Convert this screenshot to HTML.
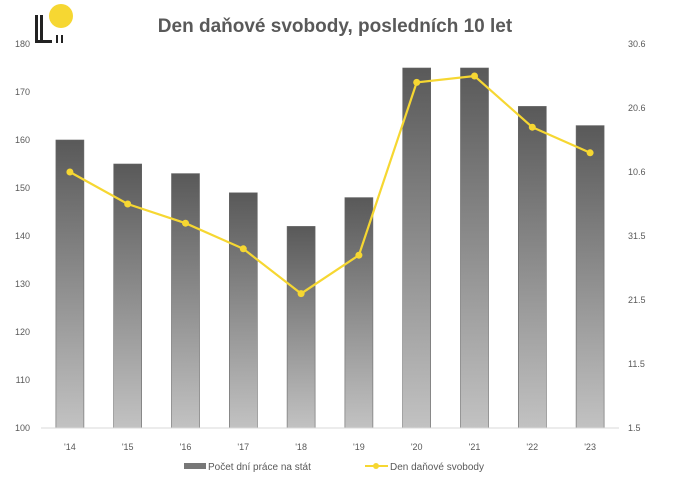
<!DOCTYPE html>
<html><head><meta charset="utf-8"><style>
body{margin:0;background:#fff;}
svg{display:block;font-family:"Liberation Sans",sans-serif;}
</style></head><body>
<svg id="c" width="685" height="492" viewBox="0 0 685 492">
<defs><linearGradient id="g" x1="0" y1="0" x2="0" y2="1"><stop offset="0" stop-color="#595959"/><stop offset="1" stop-color="#c2c2c2"/></linearGradient></defs>
<g>
<circle cx="61" cy="16" r="12" fill="#f6d732"/>
<rect x="35" y="15" width="3" height="28" fill="#222"/>
<rect x="40" y="15" width="3" height="28" fill="#222"/>
<rect x="35" y="40" width="17" height="3" fill="#222"/>
<rect x="56" y="35" width="2" height="8" fill="#222"/>
<rect x="61" y="35" width="2" height="8" fill="#222"/>
</g>
<text x="335" y="32" text-anchor="middle" font-size="19" font-weight="bold" fill="#595959">Den daňové svobody, posledních 10 let</text>
<g id="plot"></g>
<g>
<rect x="184" y="463" width="22" height="6" fill="#777"/>
<text x="208" y="470" font-size="10" fill="#595959">Počet dní práce na stát</text>
<line x1="365" y1="466" x2="388" y2="466" stroke="#f6d732" stroke-width="2"/>
<circle cx="376" cy="466" r="3" fill="#f6d732"/>
<text x="390" y="470" font-size="10" fill="#595959">Den daňové svobody</text>
</g>
</svg>
<script>
const categories=["'14","'15","'16","'17","'18","'19","'20","'21","'22","'23"];
const workDays=[160,155,153,149,142,148,175,175,167,163];
const freedomDay=[40,35,32,28,21,27,54,55,47,43]; // days after 1.5.
const leftTicks=[100,110,120,130,140,150,160,170,180];
const rightTicks=[0,10,20,30,40,50,60];
const rightTickLabels=["1.5","11.5","21.5","31.5","10.6","20.6","30.6"];
const NS="http://www.w3.org/2000/svg",p=document.getElementById('plot');
const X0=41,X1=619,Y0=428,Y1=44,bw=(X1-X0)/categories.length;
const xC=i=>X0+bw*(i+0.5);
const yL=v=>Y0-(v-100)/80*(Y0-Y1);
const yR=v=>Y0-v/60*(Y0-Y1);
function mk(t,a,txt){const e=document.createElementNS(NS,t);for(const k in a)e.setAttribute(k,a[k]);if(txt!=null)e.textContent=txt;p.appendChild(e);return e;}
leftTicks.forEach(v=>{const e=mk('text',{x:30,y:yL(v)+3,'text-anchor':'end','font-size':9,fill:'#595959'},v);

});
rightTicks.forEach((v,i)=>{const e=mk('text',{x:628,y:yR(v)+3,'font-size':9,fill:'#595959'},rightTickLabels[i]);

});
workDays.forEach((v,i)=>{const e=mk('rect',{x:xC(i)-14,y:yL(v),width:28,height:Y0-yL(v),fill:'url(#g)',stroke:'#666','stroke-width':0.6});


const t=mk('text',{x:xC(i),y:450,'text-anchor':'middle','font-size':9,fill:'#595959'},categories[i]);

});
const ax=mk('line',{x1:X0,y1:Y0,x2:X1,y2:Y0,stroke:'#d9d9d9'});


const ln=mk('polyline',{points:freedomDay.map((v,i)=>xC(i)+','+yR(v)).join(' '),fill:'none',stroke:'#f6d732','stroke-width':2.2});


freedomDay.forEach((v,i)=>{const c=mk('circle',{cx:xC(i),cy:yR(v),r:3.5,fill:'#f6d732'});

});
</script>
</body></html>
